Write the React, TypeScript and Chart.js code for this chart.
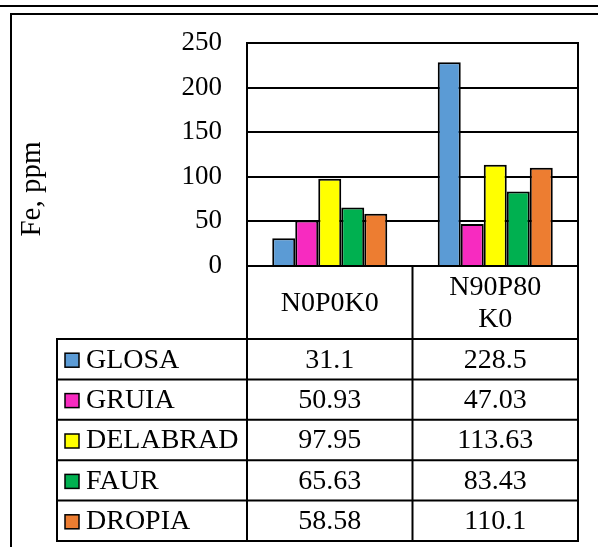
import React, { useEffect, useRef } from "react";
import { Chart, registerables } from "chart.js";

Chart.register(...registerables);

const categories = ["N0P0K0", "N90P80 K0"];
const categoryLines = [["N0P0K0"], ["N90P80", "K0"]];
const seriesNames = ["GLOSA", "GRUIA", "DELABRAD", "FAUR", "DROPIA"];
const glosa = [31.1, 228.5];
const gruia = [50.93, 47.03];
const delabrad = [97.95, 113.63];
const faur = [65.63, 83.43];
const dropia = [58.58, 110.1];
const tableText = [
  ["31.1", "228.5"],
  ["50.93", "47.03"],
  ["97.95", "113.63"],
  ["65.63", "83.43"],
  ["58.58", "110.1"],
];
const seriesColors = ["#5B9BD5", "#F72BC0", "#FFFF00", "#00B050", "#ED7D31"];
const yTitle = "Fe, ppm";

const FONT = "'Liberation Serif', 'Times New Roman', serif";

const tablePlugin = {
  id: "tablePlugin",
  afterDraw(chart: any) {
    const ctx = chart.ctx as CanvasRenderingContext2D;
    const ca = chart.chartArea;
    ctx.save();
    // page decoration lines
    ctx.strokeStyle = "#000";
    ctx.lineWidth = 2;
    ctx.beginPath();
    ctx.moveTo(0, 6);
    ctx.lineTo(598, 6);
    ctx.moveTo(10, 14);
    ctx.lineTo(598, 14);
    ctx.moveTo(11, 13);
    ctx.lineTo(11, 547);
    ctx.stroke();

    // plot border
    ctx.lineWidth = 2;
    ctx.strokeRect(ca.left, ca.top, ca.right - ca.left, ca.bottom - ca.top);

    // y title
    ctx.save();
    ctx.translate(32.5, 189);
    ctx.rotate(-Math.PI / 2);
    ctx.font = `29px ${FONT}`;
    ctx.fillStyle = "#000";
    ctx.textAlign = "center";
    ctx.textBaseline = "middle";
    ctx.fillText(yTitle, 0, 0);
    ctx.restore();

    // table
    const legendLeft = 57;
    const c0 = ca.left;
    const c2 = ca.right;
    const c1 = (c0 + c2) / 2;
    const headTop = ca.bottom;
    const headBottom = headTop + 73;
    const rowH = 40.4;
    const nRows = seriesNames.length;
    const bottom = headBottom + rowH * nRows;

    ctx.lineWidth = 2;
    ctx.beginPath();
    for (const x of [c0, c1, c2]) {
      ctx.moveTo(x, headTop);
      ctx.lineTo(x, bottom);
    }
    ctx.moveTo(legendLeft, headBottom);
    ctx.lineTo(legendLeft, bottom);
    for (let i = 0; i <= nRows; i++) {
      const y = headBottom + rowH * i;
      ctx.moveTo(legendLeft - 1, y);
      ctx.lineTo(c2 + 1, y);
    }
    ctx.stroke();

    ctx.fillStyle = "#000";
    ctx.font = `28px ${FONT}`;
    ctx.textAlign = "center";
    ctx.textBaseline = "middle";
    const cols = [(c0 + c1) / 2, (c1 + c2) / 2];
    categoryLines.forEach((lines, ci) => {
      const lh = 32;
      const midY = (headTop + headBottom) / 2 + 1;
      lines.forEach((t, li) => {
        const y = midY + (li - (lines.length - 1) / 2) * lh;
        ctx.fillText(t, cols[ci], y);
      });
    });

    for (let r = 0; r < nRows; r++) {
      const cy = headBottom + rowH * r + rowH / 2 + 1;
      ctx.fillStyle = seriesColors[r];
      ctx.fillRect(65, cy - 7, 14, 14);
      ctx.lineWidth = 1.5;
      ctx.strokeStyle = "#000";
      ctx.strokeRect(65, cy - 7, 14, 14);
      ctx.fillStyle = "#000";
      ctx.textAlign = "left";
      ctx.fillText(seriesNames[r], 86, cy);
      ctx.textAlign = "center";
      tableText[r].forEach((t, ci) => ctx.fillText(t, cols[ci], cy));
    }
    ctx.restore();
  },
};

export default function App() {
  const ref = useRef<HTMLCanvasElement | null>(null);
  useEffect(() => {
    if (!ref.current) return;
    const values = [glosa, gruia, delabrad, faur, dropia];
    const chart = new Chart(ref.current, {
      type: "bar",
      data: {
        labels: categories,
        datasets: seriesNames.map((name, i) => ({
          label: name,
          data: values[i],
          backgroundColor: seriesColors[i],
          borderColor: "#000",
          borderWidth: 2,
          barPercentage: 1,
          categoryPercentage: 0.695,
        })),
      },
      options: {
        responsive: false,
        animation: false,
        devicePixelRatio: 1,
        layout: { padding: { left: 0, top: 43, right: 20, bottom: 281 } },
        plugins: { legend: { display: false }, tooltip: { enabled: false } },
        scales: {
          x: { display: false },
          y: {
            min: 0,
            max: 250,
            afterFit: (scale: any) => {
              scale.width = 247;
            },
            ticks: {
              stepSize: 50,
              padding: 25,
              color: "#000",
              font: { family: FONT, size: 27 },
            },
            grid: { color: "#000", lineWidth: 2, drawTicks: false },
            border: { display: true, color: "#000", width: 2 },
          },
        },
      },
      plugins: [tablePlugin],
    });
    return () => chart.destroy();
  }, []);
  return (
    <div style={{ position: "absolute", left: 0, top: 0, width: 598, height: 547, background: "#fff" }}>
      <canvas ref={ref} width={598} height={547} style={{ display: "block" }} />
    </div>
  );
}
